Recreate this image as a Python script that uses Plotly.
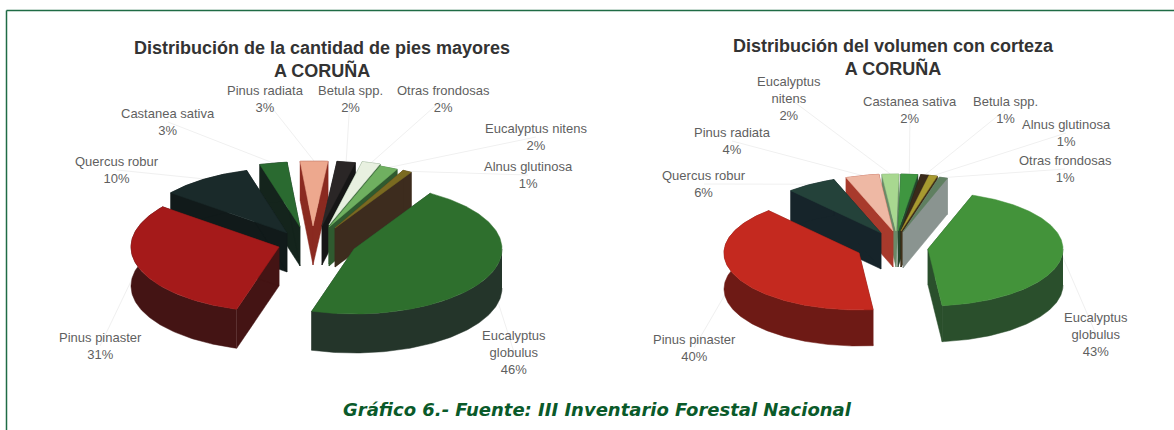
import numpy as np
import plotly.graph_objects as go

# Especies y porcentajes de cada tarta
species_left = ["Eucalyptus<br>globulus", "Pinus pinaster", "Quercus robur", "Castanea sativa", "Pinus radiata",
                "Betula spp.", "Otras frondosas", "Eucalyptus nitens", "Alnus glutinosa"]
values_left = [46, 31, 10, 3, 3, 2, 2, 2, 1]

species_right = ["Eucalyptus<br>globulus", "Pinus pinaster", "Quercus robur", "Pinus radiata", "Eucalyptus<br>nitens",
                 "Castanea sativa", "Betula spp.", "Alnus glutinosa", "Otras frondosas"]
values_right = [43, 40, 6, 4, 2, 2, 1, 1, 1]

title_left = "Distribución de la cantidad de pies mayores<br>A CORUÑA"
title_right = "Distribución del volumen con corteza<br>A CORUÑA"
caption = "Gráfico 6.- Fuente: III Inventario Forestal Nacional"

# colores (cara superior, pared)
colors_left = [("#2e6f2d", "#24352a"), ("#a51a1a", "#441414"), ("#1a2a2a", "#111a1a"), ("#2a6a30", "#14241c"),
               ("#eda88e", "#8a2a20"), ("#2a2626", "#161616"), ("#e8f0e0", "#3f6a3f"), ("#6fb060", "#2f5a2f"),
               ("#7a6a20", "#3d2c1e")]
colors_right = [("#43933a", "#2a4f2c"), ("#c4291f", "#6e1a15"), ("#24423a", "#16242a"), ("#eeb8a4", "#a83a2c"),
                ("#a8d890", "#6a8a68"), ("#3f9640", "#24452c"), ("#3a2a1a", "#20180f"), ("#a89a30", "#40301a"),
                ("#5f7f60", "#8a9490")]

# geometria de cada tarta
rx_left, ry_left, depth_left = 148, 65, 39
rx_right, ry_right, depth_right = 135, 57, 36
center_left = (317, 243)
center_right = (893, 245)
start_left = 59
start_right = 70.8
offsets_left = [(37, 6), (-38, 4), (-30, -10), (-17, -16), (-4, -17), (5, -17), (12, -18), (12, -16), (18, -15)]
offsets_right = [(35, 4), (-34, 8), (-12, -12), (0, -14), (3, -14), (5, -14), (8, -14), (8, -14), (10, -13)]

labels_at_left = [(514, 352), (100, 346), (117, 170), (168, 122), (265, 99), (350, 99), (443, 99), (536, 137), (528, 175)]
labels_at_right = [(1096, 334), (694, 348), (704, 184), (732, 141), (789, 98), (910, 110), (1005, 110), (1066, 133), (1065, 169)]


def ring(cx, cy, rx, ry, a0, a1):
    ang = np.radians(np.linspace(a0, a1, max(2, int(abs(a1 - a0)) + 2)))
    return cx + rx * np.cos(ang), cy - ry * np.sin(ang)


def poly(fig, xs, ys, color):
    fig.add_trace(go.Scatter(x=xs, y=ys, mode="lines", fill="toself", fillcolor=color,
                             line=dict(color=color, width=0.5), hoverinfo="skip", showlegend=False))


def draw_pie(fig, names, values, colors, center, rx, ry, depth, start, offsets, label_pos):
    total = sum(values)
    angle = start
    slices = []
    for name, val, col, off, lab in zip(names, values, colors, offsets, label_pos):
        a0 = angle
        a1 = angle - 360 * val / total
        angle = a1
        slices.append((a0, a1, col, off, name, val, lab))

    # lineas de guia primero, quedan debajo
    for a0, a1, col, off, name, val, lab in slices:
        mid = (a0 + a1) / 2
        px = center[0] + off[0] + rx * np.cos(np.radians(mid))
        py = center[1] + off[1] - ry * np.sin(np.radians(mid))
        fig.add_trace(go.Scatter(x=[px, lab[0]], y=[py, lab[1]], mode="lines",
                                 line=dict(color="#f0f0f0", width=1), hoverinfo="skip", showlegend=False))

    # de atras hacia delante
    for a0, a1, col, off, name, val, lab in sorted(slices, key=lambda s: -np.sin(np.radians((s[0] + s[1]) / 2))):
        cx = center[0] + off[0]
        cy = center[1] + off[1]
        top, wall = col
        for a in (a0, a1):
            ex, ey = ring(cx, cy, rx, ry, a, a)
            poly(fig, [cx, ex[0], ex[0], cx, cx], [cy, ey[0], ey[0] + depth, cy + depth, cy], wall)
        # parte del arco en la mitad delantera
        if a1 < 0:
            ax, ay = ring(cx, cy, rx, ry, min(a0, 0), a1)
            poly(fig, np.r_[ax, ax[::-1]], np.r_[ay, ay[::-1] + depth], wall)
        ax, ay = ring(cx, cy, rx, ry, a0, a1)
        if a1 > 0:
            # porciones del fondo: borde oscuro y cara clara mas estrecha
            poly(fig, np.r_[cx, ax, cx], np.r_[cy, ay, cy], wall)
            inset = 0.14 * (a0 - a1)
            ax, ay = ring(cx, cy, rx - 1, ry - 1, a0 - inset, a1 + inset)
        poly(fig, np.r_[cx, ax, cx], np.r_[cy, ay, cy], top)

    for a0, a1, col, off, name, val, lab in slices:
        fig.add_annotation(x=lab[0], y=lab[1], text=f"{name}<br>{val}%", showarrow=False,
                           font=dict(family="Liberation Sans", size=13, color="#5f5f5f"))


fig = go.Figure()
draw_pie(fig, species_left, values_left, colors_left, center_left, rx_left, ry_left, depth_left,
         start_left, offsets_left, labels_at_left)
draw_pie(fig, species_right, values_right, colors_right, center_right, rx_right, ry_right, depth_right,
         start_right, offsets_right, labels_at_right)

for text, x, y in [(title_left, 322, 59), (title_right, 893, 57)]:
    fig.add_annotation(x=x, y=y, text=f"<b>{text}</b>", showarrow=False,
                       font=dict(family="Liberation Sans", size=18, color="#333333"))

fig.add_annotation(x=597, y=409, text=f"<b><i>{caption}</i></b>", showarrow=False,
                   font=dict(family="DejaVu Sans", size=18, color="#0a5a2a"))

# marco verde de la pagina
fig.add_shape(type="line", x0=6.5, x1=1174, y0=10.5, y1=10.5, line=dict(color="#1f6b45", width=1.5))
fig.add_shape(type="line", x0=6.5, x1=6.5, y0=10.5, y1=430, line=dict(color="#1f6b45", width=1.5))

fig.update_layout(width=1174, height=430, margin=dict(l=0, r=0, t=0, b=0),
                  paper_bgcolor="white", plot_bgcolor="white", showlegend=False)
fig.update_xaxes(range=[0, 1174], visible=False, fixedrange=True)
fig.update_yaxes(range=[430, 0], visible=False, fixedrange=True)

# sin el margen por defecto de la pagina
fig.write_html("out.html", config={"displayModeBar": False}, post_script="document.body.style.margin='0';")
